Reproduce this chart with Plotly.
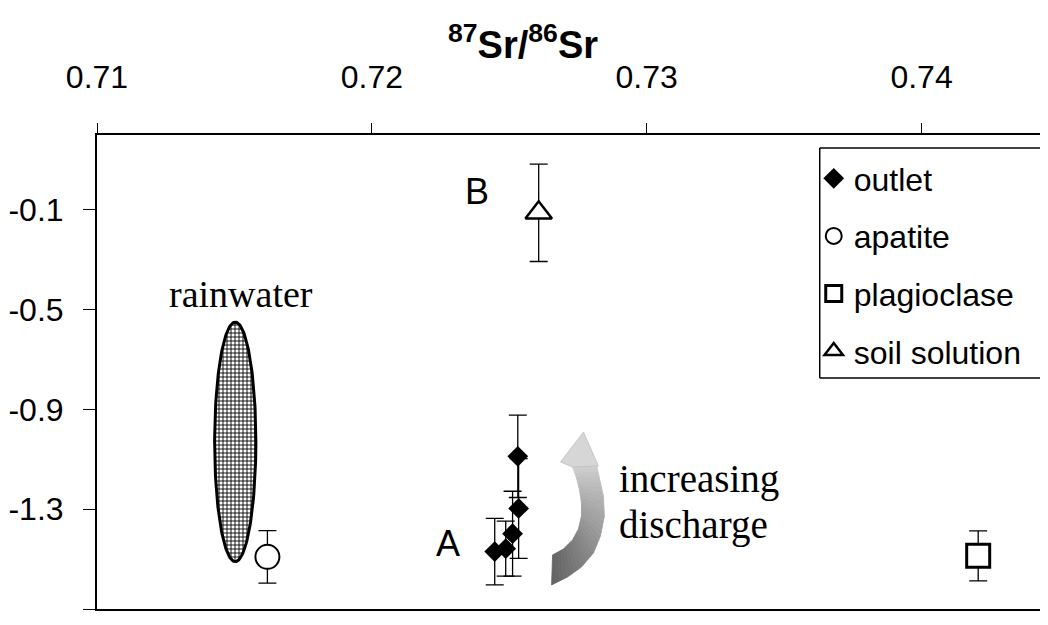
import numpy as np
import plotly.graph_objects as go

# ---------------- data ----------------
outlet_sr = [0.72531, 0.72534, 0.72512, 0.72487, 0.72447]
outlet_y = [-1.088, -1.297, -1.398, -1.458, -1.470]
outlet_err = [0.165, 0.20, 0.17, 0.11, 0.133]

apatite_sr = [0.7162]
apatite_y = [-1.491]
apatite_err = [0.105]

plag_sr = [0.74206]
plag_y = [-1.487]
plag_err = [0.10]

soil_sr = [0.72607]
soil_y = [-0.112]
soil_err = [0.195]

rain_center = [0.71503, -1.03]
rain_radius = [0.00075, 0.48]

x_ticks = [0.71, 0.72, 0.73, 0.74]
y_ticks = [-1.7, -1.3, -0.9, -0.5, -0.1]
x_range = [0.71, 0.7446]
y_range = [-1.7, 0.2]

# ---------------- layout constants ----------------
OFF = 8  # page body margin of the html page
W, H = 1048 - OFF, 625 - OFF
ML, MR, MT, MB = 94 - OFF, 0, 135 - OFF, 16
PW, PH = W - ML - MR, H - MT - MB

SANS = "Liberation Sans, Arial"
SERIF = "Liberation Serif, Times New Roman, serif"


def px2paper(px, py):
    """reference-screen pixel -> paper fraction"""
    fx, fy = px - OFF, py - OFF
    return (fx - ML) / PW, (H - MB - fy) / PH


fig = go.Figure()

# rainwater field (hatched ellipse)
t = np.linspace(0, 2 * np.pi, 181)
fig.add_trace(go.Scatter(
    x=rain_center[0] + rain_radius[0] * np.cos(t),
    y=rain_center[1] + rain_radius[1] * np.sin(t),
    mode="lines", fill="toself", fillcolor="white",
    fillpattern=dict(shape="+", size=4, solidity=0.4, fgcolor="black", bgcolor="white", fillmode="replace"),
    line=dict(color="black", width=3),
    showlegend=False, hoverinfo="skip"))

err_style = dict(type="data", thickness=1.3, width=9, color="black")

fig.add_trace(go.Scatter(
    x=outlet_sr, y=outlet_y, mode="markers", name="outlet", legendgroup="a",
    error_y=dict(array=outlet_err, **err_style),
    marker=dict(symbol="diamond", size=16, color="black", line=dict(width=0))))
fig.add_trace(go.Scatter(
    x=apatite_sr, y=apatite_y, mode="markers", name="apatite", legendgroup="b",
    error_y=dict(array=apatite_err, **err_style),
    marker=dict(symbol="circle", size=24, color="white", line=dict(width=2, color="black"))))
fig.add_trace(go.Scatter(
    x=plag_sr, y=plag_y, mode="markers", name="plagioclase", legendgroup="c",
    error_y=dict(array=plag_err, **err_style),
    marker=dict(symbol="square", size=23, color="white", line=dict(width=3, color="black"))))
fig.add_trace(go.Scatter(
    x=soil_sr, y=soil_y, mode="markers", name="soil solution", legendgroup="d",
    error_y=dict(array=soil_err, **err_style),
    marker=dict(symbol="triangle-up", size=23, color="white", line=dict(width=2.5, color="black"))))

# ---------------- curved arrow (decoration) ----------------
outer_px = [(550, 585), (566, 577), (580, 567), (592, 553), (599, 536),
            (603, 516), (602, 496), (598, 478), (595, 464)]
inner_px = [(551, 555), (562, 549), (571, 540), (577, 529), (580, 516),
            (580, 503), (578, 490), (575, 478), (571, 467)]
shapes = []
SUB = 4
n = len(outer_px) - 1
tot = n * SUB


def lerp(p, q, a):
    return (p[0] + (q[0] - p[0]) * a, p[1] + (q[1] - p[1]) * a)


for k in range(n):
    for s in range(SUB):
        a0, a1 = s / SUB, (s + 1) / SUB
        o0 = lerp(outer_px[k], outer_px[k + 1], a0)
        o1 = lerp(outer_px[k], outer_px[k + 1], a1)
        i0 = lerp(inner_px[k], inner_px[k + 1], a0)
        i1 = lerp(inner_px[k], inner_px[k + 1], a1)
        idx = k * SUB + s
        g0 = int(100 + (210 - 100) * idx / tot)
        pp = [px2paper(*p) for p in (o0, o1, i1, i0)]
        path = "M " + " L ".join(f"{a:.5f},{b:.5f}" for a, b in pp) + " Z"
        col = f"rgb({g0},{g0},{g0})"
        shapes.append(dict(type="path", xref="paper", yref="paper", path=path,
                           fillcolor=col, line=dict(width=0.8, color=col), layer="above"))
head_px = [(559, 462), (582, 432), (597, 466), (571, 467)]
pp = [px2paper(*p) for p in head_px]
shapes.append(dict(type="path", xref="paper", yref="paper",
                   path="M " + " L ".join(f"{a:.5f},{b:.5f}" for a, b in pp) + " Z",
                   fillcolor="rgb(214,214,214)", line=dict(width=0.8, color="rgb(190,190,190)"), layer="above"))

# legend frame: left, top and bottom sides only (the right side is cropped in the reference)
lx0, ly0 = px2paper(819, 148)
lx1, ly1 = px2paper(1070, 378)
frame = dict(color="black", width=1.5)
shapes.append(dict(type="line", xref="paper", yref="paper", x0=lx0, x1=lx1, y0=ly0, y1=ly0, line=frame, layer="above"))
shapes.append(dict(type="line", xref="paper", yref="paper", x0=lx0, x1=lx1, y0=ly1, y1=ly1, line=frame, layer="above"))
shapes.append(dict(type="line", xref="paper", yref="paper", x0=lx0, x1=lx0, y0=ly0, y1=ly1, line=frame, layer="above"))

annotations = []
tx, ty = px2paper(521, 42)
annotations.append(dict(xref="paper", yref="paper", x=tx, y=ty, xanchor="center", yanchor="middle",
                        text="<b><sup>87</sup>Sr/<sup>86</sup>Sr</b>", showarrow=False,
                        font=dict(family=SANS, size=38, color="black")))
for txt, px, py, fam, sz, xa in [("rainwater", 238, 294, SERIF, 38, "center"),
                                 ("increasing", 616, 479, SERIF, 39, "left"),
                                 ("discharge", 616, 525, SERIF, 39, "left"),
                                 ("A", 446, 543, SANS, 36, "center"),
                                 ("B", 475, 191, SANS, 36, "center")]:
    ax, ay = px2paper(px, py)
    annotations.append(dict(xref="paper", yref="paper", x=ax, y=ay, xanchor=xa, yanchor="middle",
                            text=txt, showarrow=False, font=dict(family=fam, size=sz, color="black")))

lgx, lgy = px2paper(813, 151)
fig.update_layout(
    width=W, height=H,
    margin=dict(l=ML, r=MR, t=MT, b=MB, pad=0),
    paper_bgcolor="white", plot_bgcolor="white",
    showlegend=True,
    legend=dict(x=lgx, y=lgy, xanchor="left", yanchor="top", bgcolor="rgba(0,0,0,0)",
                borderwidth=0, font=dict(family=SANS, size=32, color="black"),
                tracegroupgap=13, itemsizing="trace", itemwidth=30),
    xaxis=dict(range=x_range, side="top", tickvals=x_ticks, ticktext=[f"{v:.2f}" for v in x_ticks],
               showgrid=False, zeroline=False, showline=True, linecolor="black", linewidth=2,
               mirror=True, ticks="outside", ticklen=10, tickwidth=1.3, tickcolor="black",
               ticklabelstandoff=22,
               tickfont=dict(family=SANS, size=32, color="black")),
    yaxis=dict(range=y_range, tickvals=y_ticks, ticktext=[f"{v:.1f}" for v in y_ticks],
               showgrid=False, zeroline=False, showline=True, linecolor="black", linewidth=2,
               ticks="outside", ticklen=12, tickwidth=1.3, tickcolor="black",
               ticklabelstandoff=13,
               tickfont=dict(family=SANS, size=32, color="black")),
    shapes=shapes, annotations=annotations,
)

fig.write_html("out.html")
